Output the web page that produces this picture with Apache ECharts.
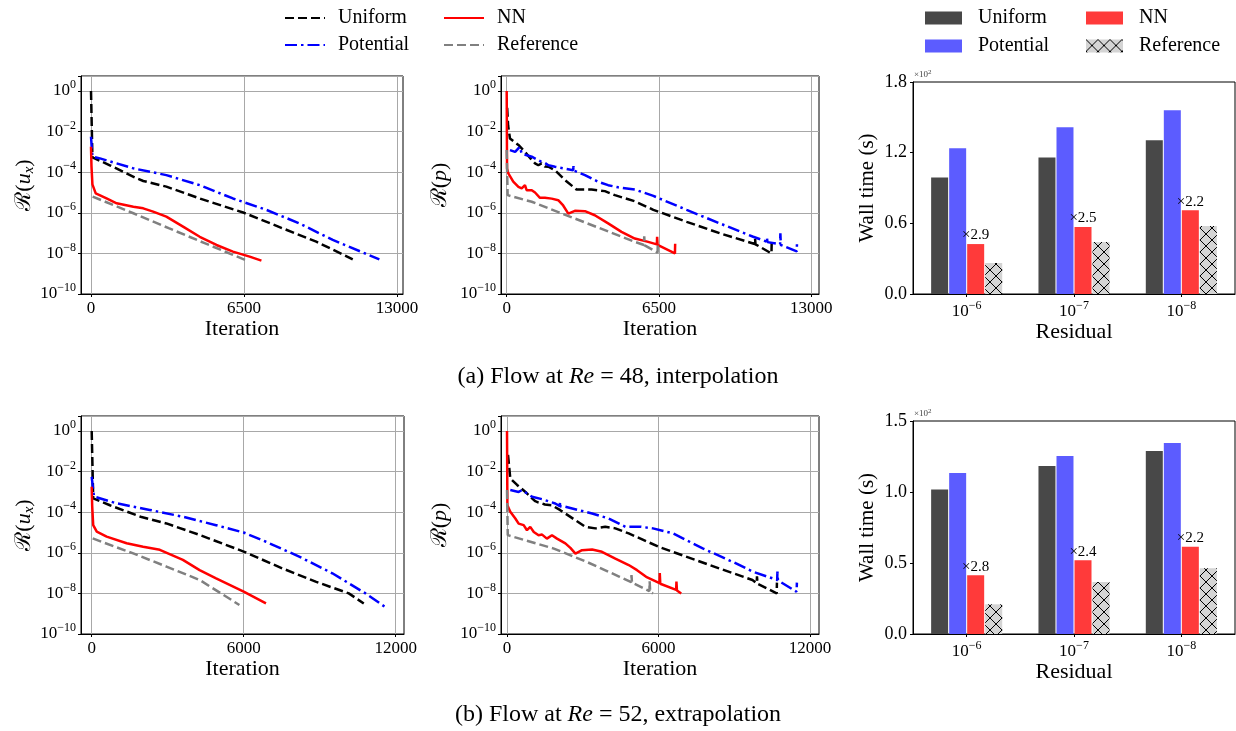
<!DOCTYPE html>
<html>
<head>
<meta charset="utf-8">
<script src="https://cdn.jsdelivr.net/npm/echarts@6/dist/echarts.min.js"></script>
<style>
  html, body { margin: 0; padding: 0; background: #ffffff; }
  #chart { width: 1236px; height: 731px; }
</style>
</head>
<body>
<div id="chart"></div>
<script>
// ---------- tick values ----------
const iterTicksRe48 = [0, 6500, 13000];
const iterTicksRe52 = [0, 6000, 12000];
const residualLevels = ['1e-6', '1e-7', '1e-8'];

// ---------- Re = 48: residual of u_x, [iteration, residual] ----------
const uxUniform48 = [[0,1.0],[60,5.4e-4],[800,2.2e-4],[1940,5.0e-5],[2220,3.7e-5],[3200,1.95e-5],[4620,5.1e-6],[6500,1.0e-6],[8150,1.7e-7],[9570,3.8e-8],[11120,5.1e-9]];
const uxPotential48 = [[0,5.6e-3],[60,5.9e-4],[380,4.8e-4],[1800,1.55e-4],[3200,7.2e-5],[4620,2.3e-5],[6030,5.1e-6],[7450,1.4e-6],[8860,3.0e-7],[10270,4.6e-8],[12250,5.1e-9]];
const uxNN48 = [[0,1.8e-3],[20,2.0e-4],[60,2.5e-5],[200,9.0e-6],[660,5.1e-6],[1090,2.95e-6],[1800,2.0e-6],[2220,1.66e-6],[2640,1.15e-6],[3200,6.5e-7],[3910,2.1e-7],[4620,6.6e-8],[5330,2.6e-8],[6030,1.23e-8],[6740,6.9e-9],[7240,4.4e-9]];
const uxReference48 = [[70,6.3e-6],[1800,9.5e-7],[3300,1.75e-7],[4800,3.3e-8],[6560,4.7e-9]];

// ---------- Re = 48: residual of p ----------
const pUniform48 = [[20,1.5e-1],[60,2.0e-2],[140,4.6e-3],[500,2.2e-3],[780,1.0e-3],[1070,4.0e-4],[1210,2.7e-4],[1350,2.2e-4],[1490,2.7e-4],[1630,1.9e-4],[1780,1.86e-4],[2060,1.26e-4],[2490,4.1e-5],[2980,1.4e-5],[3620,1.4e-5],[4190,1.17e-5],[4620,7.4e-6],[5470,3.7e-6],[6260,1.4e-6],[7680,3.6e-7],[9100,9.8e-8],[10590,2.9e-8],[10600,5.5e-8],[10620,2.8e-8],[11300,1.0e-8],[11310,3.5e-8]];
const pPotential48 = [[140,1.23e-3],[360,1.0e-3],[560,1.8e-3],[640,8.3e-4],[1070,5.8e-4],[1490,3.2e-4],[1560,4.0e-4],[1640,2.8e-4],[1780,2.2e-4],[2060,1.86e-4],[2490,1.5e-4],[2840,1.26e-4],[2850,2.0e-4],[2870,1.2e-4],[3340,7.2e-5],[3900,3.4e-5],[4330,2.3e-5],[4760,1.8e-5],[5470,1.4e-5],[6260,6.8e-6],[7680,1.4e-6],[9100,3.0e-7],[10520,6.6e-8],[11100,3.8e-8],[11110,5.5e-8],[11130,3.6e-8],[11670,2.8e-8],[11680,9.8e-8],[11700,2.6e-8],[12380,1.25e-8],[12390,3.5e-8]];
const pNN48 = [[0,1.0],[15,1.5e-4],[70,8.7e-5],[280,3.4e-5],[500,1.9e-5],[640,1.6e-5],[780,2.3e-5],[850,1.3e-5],[1070,1.3e-5],[1210,1.0e-5],[1420,5.5e-6],[1630,5.5e-6],[1920,5.0e-6],[2200,4.2e-6],[2410,2.3e-6],[2630,9.1e-7],[2910,1.26e-6],[3340,1.2e-6],[3760,7.6e-7],[4330,3.0e-7],[4900,1.15e-7],[5470,5.4e-8],[6000,3.8e-8],[6410,2.8e-8],[6420,6.5e-8],[6440,2.6e-8],[7180,1.0e-8],[7190,3.0e-8]];
const pReference48 = [[0,1.23e-3],[40,7.4e-6],[1070,3.5e-6],[5470,3.7e-8],[5860,2.6e-8],[5870,7.0e-8],[5890,2.5e-8],[6440,1.1e-8],[6450,3.5e-8]];

// ---------- Re = 52: residual of u_x ----------
const uxUniform52 = [[0,1.0],[60,4.8e-4],[720,2.2e-4],[1930,6.0e-5],[2950,2.8e-5],[4260,7.6e-6],[6000,1.15e-6],[7530,1.7e-7],[8840,3.8e-8],[10150,1.0e-8],[10740,3.2e-9]];
const uxPotential52 = [[0,5.6e-3],[90,5.9e-4],[980,2.75e-4],[2290,1.3e-4],[3600,6.0e-5],[4910,2.3e-5],[6000,1.0e-5],[6880,3.5e-6],[8190,6.5e-7],[9500,9.8e-8],[10810,1.0e-8],[11570,2.2e-9]];
const uxNN52 = [[0,1.8e-3],[20,2.0e-4],[60,2.3e-5],[200,1.1e-5],[590,6.3e-6],[1380,2.95e-6],[2030,2.0e-6],[2690,1.4e-6],[3600,4.5e-7],[4260,1.4e-7],[4910,5.5e-8],[6000,1.23e-8],[6880,3.2e-9]];
const uxReference52 = [[40,5.1e-6],[1640,9.3e-7],[2950,2.1e-7],[4260,4.6e-8],[5830,2.7e-9]];

// ---------- Re = 52: residual of p ----------
const pUniform52 = [[40,6.6e-2],[130,4.6e-3],[400,2.2e-3],[730,1.0e-3],[990,4.8e-4],[1120,3.5e-4],[1250,3.0e-4],[1390,2.7e-4],[1500,2.4e-4],[1780,2.2e-4],[2110,1.26e-4],[2510,5.9e-5],[3100,1.9e-5],[3500,1.6e-5],[3890,1.9e-5],[4290,1.6e-5],[4820,9.0e-6],[6000,2.0e-6],[7090,6.5e-7],[8410,1.7e-7],[9720,4.6e-8],[9890,3.2e-8],[9900,7.0e-8],[9920,3.0e-8],[10680,1.0e-8],[10690,3.4e-8]];
const pPotential52 = [[130,1.23e-3],[460,1.0e-3],[590,1.23e-3],[990,5.8e-4],[1390,4.4e-4],[1910,2.7e-4],[2090,2.0e-4],[2100,3.2e-4],[2120,1.9e-4],[2310,1.86e-4],[2840,1.26e-4],[3370,8.7e-5],[4030,4.9e-5],[4690,1.9e-5],[5250,1.95e-5],[5780,1.6e-5],[6570,9.1e-6],[7750,1.66e-6],[9070,3.0e-7],[9720,1.2e-7],[10700,4.6e-8],[10710,1.2e-7],[10730,4.4e-8],[11470,1.2e-8],[11480,3.4e-8]];
const pNN52 = [[0,1.0],[15,2.2e-4],[130,1.05e-4],[330,4.9e-5],[460,2.75e-5],[660,2.3e-5],[790,1.3e-5],[920,1.9e-5],[1060,1.07e-5],[1250,7.4e-6],[1390,7.9e-6],[1580,5.0e-6],[1780,7.4e-6],[1980,5.0e-6],[2310,2.9e-6],[2510,1.74e-6],[2710,9.1e-7],[2970,1.35e-6],[3370,1.45e-6],[3760,1.12e-6],[4290,5.2e-7],[4820,2.5e-7],[5150,1.4e-7],[5510,6.6e-8],[6040,3.2e-8],[6050,1.0e-7],[6070,3.0e-8],[6700,1.5e-8],[6710,3.8e-8],[6730,1.4e-8],[6900,1.0e-8]];
const pReference52 = [[0,1.23e-3],[30,7.4e-6],[1830,1.66e-6],[3150,3.6e-7],[4460,6.6e-8],[4920,3.6e-8],[4930,8.0e-8],[4950,3.4e-8],[5640,1.3e-8],[5650,4.0e-8],[5670,1.2e-8],[5780,1.0e-8]];

// ---------- wall time in seconds per residual level ----------
const wallUniform48 = [99.0, 116.0, 130.5];
const wallPotential48 = [123.7, 141.5, 156.0];
const wallNN48 = [42.4, 56.9, 71.1];
const wallReference48 = [26.3, 44.1, 57.7];
const speedup48 = [2.9, 2.5, 2.2];

const wallUniform52 = [101.8, 118.3, 128.8];
const wallPotential52 = [113.3, 125.3, 134.5];
const wallNN52 = [41.4, 52.0, 61.4];
const wallReference52 = [20.9, 36.7, 46.3];
const speedup52 = [2.8, 2.4, 2.2];

// ---------- styling ----------
const SERIF = "'Liberation Serif', 'DejaVu Serif', serif";
const C_UNIFORM = '#000000', C_POT = '#0000ff', C_NN = '#ff0000', C_REF = '#808080';
const BAR_UNIFORM = '#484848', BAR_POT = '#5c5cff', BAR_NN = '#ff3a3a';
const DASHED = [9, 4];
const DASHDOT = [12, 4, 2.5, 4];
const LW = 2.5;

// cross-hatched fill for the reference bars
function makeHatch() {
  const c = document.createElement('canvas');
  c.width = 12; c.height = 12;
  const g = c.getContext('2d');
  g.fillStyle = '#d4d4d4';
  g.fillRect(0, 0, 12, 12);
  g.strokeStyle = '#000000';
  g.lineWidth = 1;
  g.beginPath();
  g.moveTo(0, 0); g.lineTo(12, 12);
  g.moveTo(12, 0); g.lineTo(0, 12);
  g.stroke();
  return { image: c, repeat: 'repeat' };
}
const HATCH = makeHatch();

function powLabel(exp) {
  return '{b|10}{s|' + (exp === 0 ? '0' : '\u2212' + Math.abs(exp)) + '}';
}
const powRich = {
  b: { fontFamily: SERIF, fontSize: 17, color: '#000' },
  s: { fontFamily: SERIF, fontSize: 12, color: '#000', padding: [0, 0, 12, 0] }
};

// ---------- layout of the six panels ----------
const grids = [
  { left: 81,  top: 76,  width: 322, height: 218 },   // Re48 u_x
  { left: 501, top: 76,  width: 318, height: 218 },   // Re48 p
  { left: 913, top: 82,  width: 322, height: 212 },   // Re48 wall time
  { left: 81,  top: 416, width: 323, height: 218 },   // Re52 u_x
  { left: 501, top: 416, width: 318, height: 218 },   // Re52 p
  { left: 913, top: 421, width: 322, height: 213 }    // Re52 wall time
].map(g => Object.assign({ show: true, borderColor: '#000', borderWidth: 1, backgroundColor: 'transparent' }, g));

const gridLine = { show: true, lineStyle: { color: '#a8a8a8', width: 1 } };

function iterAxis(gridIndex, min, max, ticks) {
  return {
    gridIndex, type: 'value', min, max,
    axisLine: { show: true, onZero: false, lineStyle: { color: '#000', width: 1 } },
    axisTick: { show: true, length: 3, customValues: ticks, lineStyle: { color: '#000' } },
    axisLabel: { customValues: ticks, formatter: v => String(v), fontFamily: SERIF, fontSize: 17, color: '#000', margin: 6 },
    splitLine: gridLine,
    name: 'Iteration', nameLocation: 'middle', nameGap: 23,
    nameTextStyle: { fontFamily: SERIF, fontSize: 22, color: '#000' }
  };
}

function residualAxis(gridIndex, name, nameGap) {
  return {
    gridIndex, type: 'log', logBase: 10, min: 1e-10, max: 5.5, interval: 2,
    axisLine: { show: true, onZero: false, lineStyle: { color: '#000', width: 1 } },
    axisTick: { show: true, length: 3, lineStyle: { color: '#000' } },
    axisLabel: {
      margin: 5, color: '#000', rich: powRich,
      formatter: v => {
        const e = Math.log10(v), r = Math.round(e);
        return Math.abs(e - r) > 1e-6 ? '' : powLabel(r);
      }
    },
    splitLine: gridLine,
    name, nameLocation: 'middle', nameGap,
    nameTextStyle: {
      fontFamily: SERIF, fontSize: 22, color: '#000',
      rich: {
        r: { fontFamily: SERIF, fontSize: 22, color: '#000' },
        i: { fontFamily: SERIF, fontSize: 22, fontStyle: 'italic', color: '#000' },
        sub: { fontFamily: SERIF, fontSize: 15, fontStyle: 'italic', color: '#000', padding: [9, 0, 0, 0] }
      }
    }
  };
}

function levelAxis(gridIndex) {
  return {
    gridIndex, type: 'category', data: residualLevels,
    axisLine: { show: true, lineStyle: { color: '#000', width: 1 } },
    axisTick: { show: true, alignWithLabel: true, length: 3, lineStyle: { color: '#000' } },
    axisLabel: {
      margin: 6, color: '#000', rich: powRich,
      formatter: v => powLabel(Math.round(Math.log10(Number(v))))
    },
    splitLine: { show: false },
    name: 'Residual', nameLocation: 'middle', nameGap: 24,
    nameTextStyle: { fontFamily: SERIF, fontSize: 22, color: '#000' }
  };
}

function timeAxis(gridIndex, max, interval) {
  return {
    gridIndex, type: 'value', min: 0, max, interval,
    axisLine: { show: true, lineStyle: { color: '#000', width: 1 } },
    axisTick: { show: true, length: 3, lineStyle: { color: '#000' } },
    axisLabel: { formatter: v => (v / 100).toFixed(1), fontFamily: SERIF, fontSize: 18, color: '#000', margin: 6 },
    splitLine: { show: false },
    name: 'Wall time (s)', nameLocation: 'middle', nameGap: 35,
    nameTextStyle: { fontFamily: SERIF, fontSize: 21, color: '#000' }
  };
}

const xAxes = [
  iterAxis(0, -425, 13255, iterTicksRe48),
  iterAxis(1, -243, 13329, iterTicksRe48),
  levelAxis(2),
  iterAxis(3, -422, 12328, iterTicksRe52),
  iterAxis(4, -238, 12356, iterTicksRe52),
  levelAxis(5)
];
const yAxes = [
  residualAxis(0, '{r|\u211B(}{i|u}{sub|x}{r|)}', 43),
  residualAxis(1, '{r|\u211B(}{i|p}{r|)}', 50),
  timeAxis(2, 180, 60),
  residualAxis(3, '{r|\u211B(}{i|u}{sub|x}{r|)}', 43),
  residualAxis(4, '{r|\u211B(}{i|p}{r|)}', 50),
  timeAxis(5, 150, 50)
];

function lineSeries(name, idx, data, color, dash) {
  return {
    name, type: 'line', xAxisIndex: idx, yAxisIndex: idx, data,
    symbol: 'none', showSymbol: false, color,
    lineStyle: { color, width: LW, type: dash },
    emphasis: { disabled: true }, animation: false
  };
}

function residualPanel(idx, uni, pot, nn, ref) {
  return [
    lineSeries('Uniform', idx, uni, C_UNIFORM, DASHED),
    lineSeries('Potential', idx, pot, C_POT, DASHDOT),
    lineSeries('NN', idx, nn, C_NN, 'solid'),
    lineSeries('Reference', idx, ref, C_REF, DASHED)
  ];
}

function barSeries(name, idx, data, color, speedup) {
  const s = {
    name, type: 'bar', xAxisIndex: idx, yAxisIndex: idx, data,
    barWidth: 17, barGap: '6%', itemStyle: { color },
    emphasis: { disabled: true }, animation: false
  };
  if (speedup) {
    s.label = {
      show: true, position: 'top', distance: 1,
      formatter: p => '\u00D7' + speedup[p.dataIndex].toFixed(1),
      fontFamily: SERIF, fontSize: 15, color: '#000'
    };
  }
  return s;
}

function wallPanel(idx, uni, pot, nn, ref, speedup) {
  return [
    barSeries('Uniform (wall time)', idx, uni, BAR_UNIFORM),
    barSeries('Potential (wall time)', idx, pot, BAR_POT),
    barSeries('NN (wall time)', idx, nn, BAR_NN, speedup),
    barSeries('Reference (wall time)', idx, ref, HATCH)
  ];
}

const series = [].concat(
  residualPanel(0, uxUniform48, uxPotential48, uxNN48, uxReference48),
  residualPanel(1, pUniform48, pPotential48, pNN48, pReference48),
  wallPanel(2, wallUniform48, wallPotential48, wallNN48, wallReference48, speedup48),
  residualPanel(3, uxUniform52, uxPotential52, uxNN52, uxReference52),
  residualPanel(4, pUniform52, pPotential52, pNN52, pReference52),
  wallPanel(5, wallUniform52, wallPotential52, wallNN52, wallReference52, speedup52)
);

const legendText = { fontFamily: SERIF, fontSize: 20, color: '#000', lineHeight: 20 };
function lineLegend(left, names) {
  return {
    data: names, orient: 'vertical', left, top: 3, selectedMode: false,
    itemWidth: 40, itemHeight: 12, itemGap: 7,
    itemStyle: { opacity: 0 },
    textStyle: Object.assign({ padding: [0, 0, 0, 8] }, legendText)
  };
}
function barLegend(left, names) {
  return {
    data: names, orient: 'vertical', left, top: 3, selectedMode: false,
    icon: 'rect', itemWidth: 37, itemHeight: 13, itemGap: 8,
    formatter: n => n.replace(' (wall time)', ''),
    textStyle: Object.assign({ padding: [0, 0, 0, 11] }, legendText)
  };
}

const captionRich = { i: { fontFamily: SERIF, fontSize: 24, fontStyle: 'italic', color: '#000' } };
function caption(y, text) {
  return {
    type: 'text', left: 'center', top: y,
    style: { text, rich: captionRich, fontFamily: SERIF, fontSize: 24, fill: '#000' }
  };
}
function offsetText(x, y) {
  return {
    type: 'text', left: x, top: y,
    style: {
      text: '\u00D710{e|2}', fontFamily: SERIF, fontSize: 9, fill: '#444',
      rich: { e: { fontFamily: SERIF, fontSize: 7, fill: '#444', padding: [0, 0, 5, 0] } }
    }
  };
}

const option = {
  backgroundColor: '#ffffff',
  animation: false,
  grid: grids,
  xAxis: xAxes,
  yAxis: yAxes,
  legend: [
    lineLegend(279, ['Uniform', 'Potential']),
    lineLegend(438, ['NN', 'Reference']),
    barLegend(920, ['Uniform (wall time)', 'Potential (wall time)']),
    barLegend(1081, ['NN (wall time)', 'Reference (wall time)'])
  ],
  graphic: [
    caption(365, '(a) Flow at {i|Re} = 48, interpolation'),
    caption(703, '(b) Flow at {i|Re} = 52, extrapolation'),
    offsetText(914, 69),
    offsetText(914, 408)
  ],
  series
};

const chart = echarts.init(document.getElementById('chart'), null, { renderer: 'canvas' });
chart.setOption(option);
</script>
</body>
</html>
